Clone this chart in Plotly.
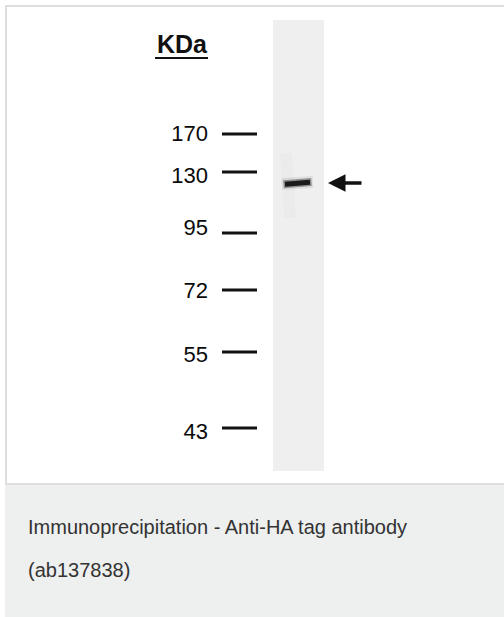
import plotly.graph_objects as go

# ---- data ----
marker_kda = ["170", "130", "95", "72", "55", "43"]
marker_migration = [134, 172, 233, 290, 352, 428]   # migration distance (arbitrary units, top of gel = 0)
label_migration = [135, 177, 229, 292, 356, 433]
band_migration = 183
band_label = "HA-tagged protein"
unit_label = "KDa"
caption_lines = ["Immunoprecipitation - Anti-HA tag antibody", "(ab137838)"]

W, H = 504, 617
fig = go.Figure()

shapes = []
# outer frame of image panel
shapes.append(dict(type="rect", xref="x", yref="y", x0=6, x1=W + 20, y0=6, y1=484,
                   line=dict(color="#dedede", width=2), fillcolor="white", layer="below"))
# caption panel
shapes.append(dict(type="rect", xref="x", yref="y", x0=5, x1=W + 20, y0=485, y1=H + 10,
                   line=dict(width=0), fillcolor="#eeefef", layer="below"))
# gel lane
shapes.append(dict(type="rect", xref="x", yref="y", x0=273, x1=324, y0=20, y1=471,
                   line=dict(width=0), fillcolor="#efefef", layer="below"))
# KDa underline
shapes.append(dict(type="line", xref="x", yref="y", x0=155, x1=208, y0=58, y1=58,
                   line=dict(color="#111", width=2)))
fig.update_layout(shapes=shapes)

# faint smear around band
fig.add_trace(go.Scatter(x=[286, 287, 288, 289, 290], y=[band_migration - 30, band_migration - 12,
                          band_migration, band_migration + 15, band_migration + 35],
                         mode="lines", line=dict(color="rgba(0,0,0,0.015)", width=12),
                         hoverinfo="skip", showlegend=False))
fig.add_trace(go.Scatter(x=[282, 313], y=[band_migration + 1, band_migration - 1],
                         mode="lines", line=dict(color="rgba(0,0,0,0.07)", width=12),
                         hoverinfo="skip", showlegend=False))
fig.add_trace(go.Scatter(x=[283.5, 311.5], y=[band_migration + 1.2, band_migration - 1],
                         mode="lines", line=dict(color="rgba(0,0,0,0.35)", width=8),
                         hoverinfo="skip", showlegend=False))
# band
fig.add_trace(go.Scatter(x=[285, 310], y=[band_migration + 1.2, band_migration - 0.8],
                         mode="lines", line=dict(color="#1a1a1a", width=5),
                         name=band_label, hoverinfo="skip", showlegend=False))

# marker ticks
tx, ty = [], []
for m in marker_migration:
    tx += [222, 257, None]
    ty += [m, m, None]
fig.add_trace(go.Scatter(x=tx, y=ty, mode="lines", line=dict(color="#111", width=3),
                         hoverinfo="skip", showlegend=False))
# marker labels
fig.add_trace(go.Scatter(x=[208] * len(label_migration), y=label_migration, text=marker_kda,
                         mode="text", textposition="middle left",
                         textfont=dict(family="Liberation Sans, Arial", size=22, color="#0a0a0a"),
                         hoverinfo="skip", showlegend=False))

annotations = [
    dict(x=155, y=44, xref="x", yref="y", text="<b>" + unit_label + "</b>", showarrow=False,
         xanchor="left", yanchor="middle",
         font=dict(family="Liberation Sans, Arial", size=25, color="#111")),
    dict(x=328, y=band_migration, ax=363, ay=band_migration, xref="x", yref="y",
         axref="x", ayref="y", text="", showarrow=True, arrowhead=2, arrowsize=1.0,
         arrowwidth=3.5, arrowcolor="#111"),
    dict(x=26, y=527, xref="x", yref="y", text=caption_lines[0], showarrow=False,
         xanchor="left", yanchor="middle",
         font=dict(family="Liberation Sans, Arial", size=20, color="#333")),
    dict(x=26, y=570, xref="x", yref="y", text=caption_lines[1], showarrow=False,
         xanchor="left", yanchor="middle",
         font=dict(family="Liberation Sans, Arial", size=20, color="#333")),
]

fig.update_layout(
    width=W, height=H, margin=dict(l=0, r=0, t=0, b=0),
    paper_bgcolor="white", plot_bgcolor="white",
    xaxis=dict(range=[0, W], visible=False, fixedrange=True),
    yaxis=dict(range=[H, 0], visible=False, fixedrange=True),
    annotations=annotations, showlegend=False,
)

fig.write_html("out.html", config={"displayModeBar": False},
               post_script="document.body.style.margin='0';document.body.style.overflow='hidden';")
